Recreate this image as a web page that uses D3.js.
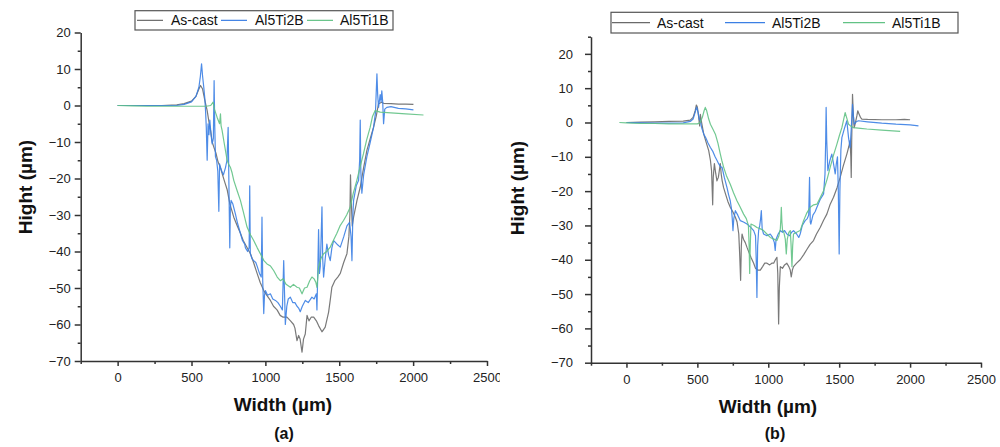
<!DOCTYPE html>
<html>
<head>
<meta charset="utf-8">
<script src="https://cdn.jsdelivr.net/npm/d3@7/dist/d3.min.js"></script>
<style>
  html, body { margin: 0; padding: 0; background: #fff; }
  svg { display: block; font-family: "Liberation Sans", Arial, sans-serif; }
  .axis path, .axis line { stroke: #333; stroke-width: 1.5; }
  .axis text { fill: #222; font-size: 13px; font-family: "Liberation Sans", Arial, sans-serif; }
  .series { fill: none; stroke-width: 1.2; stroke-linejoin: round; }
</style>
</head>
<body>
<svg id="chart" width="1000" height="447"></svg>
<script>
// Depth profiles of the wear tracks, [width µm, height µm]
const seriesNames = ["As-cast", "Al5Ti2B", "Al5Ti1B"];
const seriesColors = ["#6a6a6a", "#3b7fe4", "#62c285"];

const xMajorTicks = [0, 500, 1000, 1500, 2000, 2500];
const xMinorTicks = [-250, 250, 750, 1250, 1750, 2250];
const yMajorTicks = [-70, -60, -50, -40, -30, -20, -10, 0, 10, 20];
const yMinorTicks = [-65, -55, -45, -35, -25, -15, -5, 5, 15, 25];

// panel (a)
const castA = [[0,0],[100,0],[200,0],[300,0],[400,0.2],[450,0.5],[500,1.2],[530,2.5],[550,4.5],[561,5.5],[575,4.5],[590,1.5],[606,-1.4],[620,-5],[630,-7],[640,-10],[651,-11.4],[665,-13],[680,-15.5],[696,-17],[710,-19],[725,-21],[741,-23],[760,-27],[786,-30.6],[810,-33],[831,-35],[850,-37],[870,-38.5],[899,-40.6],[920,-43],[944,-46],[965,-48.5],[989,-50.7],[1010,-52],[1034,-53.4],[1055,-55],[1079,-56],[1100,-57.5],[1120,-58],[1146,-58],[1170,-59],[1191,-60],[1200,-61],[1214,-64.4],[1225,-63],[1235,-64],[1248,-67.6],[1258,-64],[1270,-62.6],[1282,-57.5],[1295,-59],[1310,-58],[1327,-58],[1345,-59],[1360,-60.3],[1383,-62],[1405,-60.7],[1428,-56.6],[1440,-53],[1450,-49.8],[1470,-48],[1490,-47],[1507,-46],[1530,-43],[1552,-40.6],[1565,-36],[1572,-30],[1576,-19],[1580,-25],[1588,-33],[1597,-30.6],[1620,-26],[1642,-22.4],[1665,-17],[1687,-12.3],[1710,-9],[1732,-6],[1750,-3],[1766,0.5],[1788,0.9],[1800,0.6],[1850,0.5],[1900,0.4],[1950,0.4],[2002,0.3]];
const ti2bA = [[0,0],[100,0],[200,0],[300,0],[400,0],[450,0.3],[500,1],[530,2.5],[550,5],[560,8],[568,11.4],[575,8],[583,5],[590,2],[595,-1.4],[600,-6],[606,-15],[612,-5],[618,-8],[624,-4],[632,-8],[640,-10.5],[648,-9],[653,6.8],[657,-5],[662,-14],[670,-15],[678,-18],[685,-29],[690,-16],[696,-17],[705,-18],[716,-19],[730,-17],[740,-15],[748,-6],[752,-18],[759,-39],[763,-28],[768,-26],[780,-27],[797,-29.7],[810,-32],[831,-35],[845,-37],[860,-38],[865,-39],[880,-40],[890,-39],[894,-22],[898,-40.6],[910,-42],[921,-42.5],[935,-43],[944,-44],[960,-46],[972,-47],[977,-30.6],[982,-48],[989,-57],[994,-52],[1000,-50.7],[1015,-52],[1034,-51.6],[1050,-53],[1068,-53.4],[1085,-54],[1101,-55],[1115,-56],[1124,-42.5],[1130,-52],[1135,-60],[1145,-55],[1155,-53],[1169,-52.5],[1185,-54],[1200,-54],[1214,-55],[1225,-55.5],[1236,-56.5],[1250,-55],[1270,-53.4],[1290,-54],[1315,-52.5],[1330,-53],[1345,-51.6],[1349,-56],[1355,-45],[1360,-34],[1366,-46],[1372,-44],[1383,-27.8],[1388,-42],[1394,-47],[1405,-42],[1416,-38],[1428,-41],[1439,-42.5],[1450,-39],[1462,-37],[1485,-38],[1507,-38.8],[1530,-36],[1552,-33],[1570,-32],[1580,-36],[1586,-42.5],[1592,-30],[1597,-26],[1615,-22],[1631,-20.5],[1638,-15],[1642,-4],[1646,-18],[1653,-24],[1665,-19],[1687,-14],[1710,-10],[1732,-6],[1745,-2],[1755,8.7],[1760,3],[1766,-0.5],[1777,3],[1783,1],[1788,4],[1794,1],[1800,-5],[1808,-1],[1822,-0.5],[1850,-0.3],[1900,-0.8],[1950,-0.9],[2002,-1.2]];
const ti1bA = [[0,0],[100,-0.1],[200,-0.2],[300,-0.2],[400,-0.2],[500,-0.2],[600,-0.2],[630,0],[646,0.9],[655,-1],[673,-3.2],[690,-5],[696,-2.3],[700,-5.5],[707,-6.8],[720,-10],[741,-15],[750,-16],[764,-17],[775,-18.5],[786,-20.5],[810,-23.5],[831,-26],[850,-29],[876,-33.3],[900,-35.5],[921,-37],[945,-39],[966,-40.6],[990,-42.5],[1011,-43.4],[1035,-44],[1056,-45.2],[1080,-47],[1101,-48],[1120,-47.5],[1140,-49],[1169,-49.8],[1190,-49],[1214,-49.8],[1230,-50],[1248,-51.6],[1265,-50],[1282,-49.8],[1300,-48],[1315,-47],[1330,-47.5],[1342,-48.5],[1349,-49.8],[1355,-47],[1360,-44.3],[1375,-42],[1394,-40.6],[1415,-40],[1439,-38.8],[1460,-37],[1484,-35],[1505,-33],[1529,-31.5],[1550,-30],[1574,-27.9],[1595,-24],[1619,-20.5],[1640,-17],[1664,-13.2],[1685,-9.5],[1709,-6],[1725,-3],[1743,-1.4],[1760,-1.6],[1777,-1.8],[1850,-2.0],[1950,-2.3],[2070,-2.6]];

// panel (b)
const castB = [[0,0],[100,0.1],[200,0.2],[300,0.3],[400,0.4],[450,0.7],[470,1.5],[485,3.5],[493,5.1],[500,4.5],[508,2],[516,-1],[521,2.4],[530,0],[545,-3.4],[560,-5.5],[580,-8.2],[592,-11],[600,-14],[605,-20],[608,-24],[612,-16],[620,-12],[630,-15],[638,-17],[648,-16],[655,-14],[662,-12],[668,-15],[675,-17],[685,-19],[700,-21],[715,-23],[732,-24.7],[750,-26],[768,-27.6],[780,-29],[792,-32.5],[798,-38],[805,-46],[810,-36],[815,-32.5],[825,-34],[838,-35],[850,-36.4],[865,-38],[880,-39.5],[897,-41],[910,-42.5],[925,-43],[944,-43],[960,-42],[975,-41],[991,-41],[1010,-41.5],[1025,-41],[1038,-41],[1050,-40],[1061,-39.3],[1067,-44],[1073,-58.7],[1078,-48],[1085,-42],[1100,-42.5],[1115,-41.5],[1131,-41],[1145,-42],[1155,-43],[1162,-45],[1170,-43],[1178,-42],[1200,-41],[1225,-40],[1250,-38.5],[1272,-37],[1295,-35.5],[1319,-34.4],[1340,-32.5],[1366,-30.6],[1390,-28.5],[1413,-26.7],[1435,-24],[1460,-21.8],[1485,-19],[1507,-16],[1530,-12.5],[1554,-9.2],[1568,-7],[1577,-5.3],[1582,-10],[1585,-16],[1588,-6],[1594,8.2],[1600,2],[1606,-1.5],[1615,0],[1625,2],[1631,3.4],[1640,2.5],[1650,1.5],[1660,1],[1700,0.9],[1800,0.8],[1900,0.8],[1960,0.9],[2000,0.8]];
const ti2bB = [[0,0],[100,-0.1],[200,-0.2],[300,-0.2],[400,-0.1],[450,0.3],[470,1],[485,3],[495,4.5],[505,3],[513,1],[521,0.5],[530,-1.5],[545,-3.4],[560,-4.5],[575,-6],[592,-7.3],[610,-8.5],[625,-10],[638,-11],[650,-12],[665,-13],[674,-13],[690,-16],[709,-19],[720,-21],[732,-22.8],[740,-25],[746,-28],[751,-31.5],[757,-28],[768,-25.7],[785,-27],[803,-28.6],[825,-29],[850,-29.6],[875,-30.5],[897,-31.5],[910,-33],[915,-40],[920,-51],[925,-36],[932,-31.5],[940,-30],[946,-28],[951,-25.7],[957,-31],[967,-32.5],[990,-33],[1014,-32.5],[1030,-33.5],[1043,-35],[1049,-37.3],[1055,-34],[1070,-32.5],[1085,-31.5],[1100,-32],[1115,-31.5],[1131,-32.5],[1150,-33],[1165,-32],[1178,-31.5],[1200,-32.5],[1215,-33.5],[1225,-32.5],[1240,-30],[1260,-28.6],[1275,-28],[1285,-27],[1291,-16],[1296,-29],[1300,-29.6],[1315,-27],[1330,-26],[1343,-24.7],[1365,-22.5],[1390,-20.8],[1400,-15],[1405,-5],[1408,4.4],[1412,-5],[1420,-14],[1435,-11],[1448,-9.2],[1460,-12],[1472,-15],[1480,-12],[1488,-10],[1494,-20],[1500,-38.3],[1505,-20],[1512,-8],[1519,-4.4],[1535,-2],[1554,0.5],[1560,-2],[1566,-4.4],[1572,-6],[1577,-7.3],[1585,-2],[1594,5.3],[1600,2],[1606,-0.5],[1620,0.2],[1636,0.5],[1700,0.2],[1800,-0.2],[1900,-0.5],[2000,-0.7],[2059,-1]];
const ti1bB = [[-50,0],[0,-0.1],[100,-0.3],[200,-0.3],[300,-0.4],[400,-0.4],[500,-0.4],[520,0],[535,1.5],[548,3.5],[556,4.4],[565,3.5],[580,1],[592,-0.5],[610,-2],[627,-3.4],[645,-6],[662,-9.2],[672,-11],[685,-13],[705,-15.5],[732,-18],[755,-20.5],[779,-22.8],[800,-24.5],[826,-26.7],[845,-28],[860,-30],[865,-36],[869,-44],[873,-36],[878,-29.6],[900,-30],[920,-30.6],[945,-31],[967,-31.5],[990,-32.5],[1014,-33.5],[1040,-34],[1061,-34.4],[1075,-33],[1085,-31],[1089,-28],[1092,-24.7],[1096,-29],[1101,-31.5],[1110,-32],[1120,-34],[1127,-38.3],[1134,-34],[1145,-32],[1155,-31.5],[1160,-35],[1167,-42],[1172,-36],[1178,-32.5],[1200,-32],[1225,-31.5],[1249,-28.6],[1270,-26.5],[1296,-24.7],[1320,-24],[1343,-23.8],[1365,-22],[1390,-19.9],[1415,-16.5],[1437,-13],[1460,-9.5],[1484,-6.3],[1500,-4],[1519,-1.5],[1532,1],[1542,2.9],[1552,1.5],[1566,-0.5],[1580,-1],[1601,-1.5],[1650,-1.7],[1695,-1.9],[1800,-2.2],[1930,-2.6]];

const svg = d3.select("#chart");
svg.append("defs").append("clipPath").attr("id", "clipA")
  .append("rect").attr("x", 0).attr("y", 0).attr("width", 500).attr("height", 447);

const panels = [
  {
    label: "(a)", series: [castA, ti2bA, ti1bA], clip: "url(#clipA)",
    x: [80.7, 487], y: [361, 32.5], yDomain: [-70, 20],
    yPad: 4, yTitleX: 25, yTitleY: 187, xTitleX: 283, xTitleY: 411, labelY: 439, labelX: 284,
    legend: { x0: 135, y0: 10.7, x1: 393, y1: 30,
      items: [[137, 163, 171], [221, 247, 255], [307, 333, 340]] }
  },
  {
    label: "(b)", series: [castB, ti2bB, ti1bB], clip: null,
    x: [591, 981], y: [362.7, 36.7], yDomain: [-70, 25],
    yPad: 12, yTitleX: 517, yTitleY: 188, xTitleX: 768, xTitleY: 413, labelY: 439, labelX: 775,
    legend: { x0: 611, y0: 12.3, x1: 958, y1: 33,
      items: [[612, 650, 657], [725, 765, 772], [843, 885, 892]] }
  }
];

panels.forEach(p => {
  const g = svg.append("g");
  if (p.clip) g.attr("clip-path", p.clip);

  const x = d3.scaleLinear().domain([-250, 2500]).range(p.x);
  const y = d3.scaleLinear().domain(p.yDomain).range(p.y);

  // minor ticks
  g.append("g").attr("class", "axis")
    .attr("transform", `translate(0,${p.y[0]})`)
    .call(d3.axisBottom(x).tickValues(xMinorTicks).tickSize(3).tickSizeOuter(0).tickFormat(""))
    .call(a => a.select(".domain").remove());
  g.append("g").attr("class", "axis")
    .attr("transform", `translate(${p.x[0]},0)`)
    .call(d3.axisLeft(y).tickValues(yMinorTicks.filter(v => v <= p.yDomain[1])).tickSize(3).tickSizeOuter(0).tickFormat(""))
    .call(a => a.select(".domain").remove());

  // major axes
  g.append("g").attr("class", "axis")
    .attr("transform", `translate(0,${p.y[0]})`)
    .call(d3.axisBottom(x).tickValues(xMajorTicks).tickSize(5).tickSizeOuter(0).tickPadding(7).tickFormat(d3.format("d")));
  g.append("g").attr("class", "axis")
    .attr("transform", `translate(${p.x[0]},0)`)
    .call(d3.axisLeft(y).tickValues(yMajorTicks).tickSize(6).tickSizeOuter(0).tickPadding(p.yPad).tickFormat(d3.format("d")));

  // profiles
  const line = d3.line().x(d => x(d[0])).y(d => y(d[1]));
  p.series.forEach((s, i) => {
    g.append("path").attr("class", "series")
      .attr("d", line(s))
      .attr("stroke", seriesColors[i])
      .attr("stroke-opacity", 0.9);
  });

  // titles
  g.append("text")
    .attr("transform", `translate(${p.yTitleX},${p.yTitleY}) rotate(-90)`)
    .attr("text-anchor", "middle").attr("dy", "0.35em")
    .attr("font-size", 19).attr("font-weight", "bold").attr("fill", "#111")
    .text("Hight (µm)");
  g.append("text")
    .attr("x", p.xTitleX).attr("y", p.xTitleY)
    .attr("text-anchor", "middle")
    .attr("font-size", 19).attr("font-weight", "bold").attr("fill", "#111")
    .text("Width (µm)");
  g.append("text")
    .attr("x", p.labelX).attr("y", p.labelY)
    .attr("text-anchor", "middle")
    .attr("font-size", 16).attr("font-weight", "bold").attr("fill", "#111")
    .text(p.label);

  // legend
  const L = p.legend;
  const lg = g.append("g");
  lg.append("rect")
    .attr("x", L.x0).attr("y", L.y0)
    .attr("width", L.x1 - L.x0).attr("height", L.y1 - L.y0)
    .attr("fill", "#fff").attr("stroke", "#555").attr("stroke-width", 1.2);
  const ly = (L.y0 + L.y1) / 2;
  L.items.forEach((it, i) => {
    lg.append("line")
      .attr("x1", it[0]).attr("x2", it[1]).attr("y1", ly).attr("y2", ly)
      .attr("stroke", seriesColors[i]).attr("stroke-width", 1.2);
    lg.append("text")
      .attr("x", it[2]).attr("y", ly).attr("dy", "0.36em")
      .attr("font-size", 14).attr("fill", "#111")
      .text(seriesNames[i]);
  });
});
</script>
</body>
</html>
